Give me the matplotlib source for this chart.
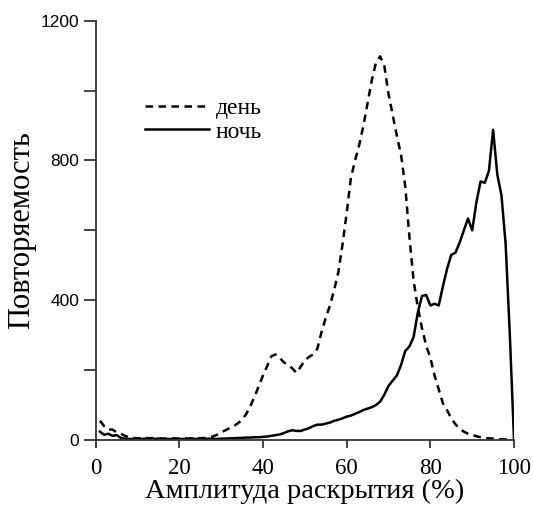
import matplotlib.pyplot as plt

# Amplitude of opening (%), one value per percent
amp_day = list(range(1, 100))
amp_night = list(range(1, 101))

day = [55, 40, 30, 30, 22, 18, 12, 8, 6, 5,
       5, 6, 5, 6, 5, 4, 4, 5, 4, 4,
       5, 4, 5, 6, 5, 6, 8, 10, 15, 22,
       28, 34, 40, 48, 58, 75, 98, 125, 155, 185,
       212, 240, 245, 235, 222, 215, 205, 192, 210, 228,
       238, 245, 262, 310, 350, 385, 430, 480, 560, 650,
       750, 800, 845, 900, 965, 1030, 1080, 1098, 1070, 990,
       930, 870, 815, 725, 580, 455, 380, 320, 270, 235,
       185, 145, 105, 85, 62, 45, 32, 24, 18, 14,
       11, 8, 6, 5, 4, 3, 2, 2, 1]

night = [24, 15, 18, 12, 14, 6, 4, 3, 3, 4,
         3, 4, 3, 3, 4, 3, 3, 3, 4, 3,
         3, 3, 4, 3, 3, 3, 4, 3, 3, 4,
         4, 5, 5, 6, 6, 7, 7, 8, 8, 9,
         10, 12, 14, 16, 20, 25, 28, 26, 26, 30,
         34, 40, 44, 44, 47, 50, 55, 58, 62, 67,
         70, 75, 80, 86, 90, 94, 100, 110, 130, 155,
         170, 185, 215, 255, 268, 295, 365, 412, 415, 385,
         390, 385, 440, 490, 530, 536, 565, 600, 634, 600,
         680, 740, 736, 770, 888, 760, 700, 560, 300, 0]

serif = "Liberation Serif"
sans = "Liberation Sans"

fig = plt.figure(figsize=(5.33, 5.11), dpi=100)
ax = fig.add_axes([0.1796, 0.1389, 0.7848, 0.8206])

ax.plot(amp_day, day, color="black", lw=1.8, ls=(0, (3, 2.2)), label="день")
ax.plot(amp_night, night, color="black", lw=1.8, label="ночь")

ax.set_xlim(0, 100)
ax.set_ylim(0, 1200)
ax.set_xticks([0, 20, 40, 60, 80, 100])
ax.set_yticks([0, 400, 800, 1200])
ax.set_yticks([200, 600, 1000], minor=True)

for s in ["top", "right"]:
    ax.spines[s].set_visible(False)
for s in ["left", "bottom"]:
    ax.spines[s].set_linewidth(1.3)
    ax.spines[s].set_color("#333333")

ax.tick_params(axis="y", which="both", direction="out", length=9, width=1.3,
               color="#333333", labelsize=12.5, pad=3)
ax.tick_params(axis="x", direction="out", length=6, width=1.3,
               color="#333333", labelsize=16.5, pad=7)
for lab in ax.get_yticklabels():
    lab.set_fontfamily(sans)
for lab in ax.get_xticklabels():
    lab.set_fontfamily(serif)

ax.set_xlabel("Амплитуда раскрытия (%)", fontfamily=serif, fontsize=20.5, labelpad=0)
ax.set_ylabel("Повторяемость", fontfamily=serif, fontsize=22, labelpad=3)

ax.legend(loc="upper left", bbox_to_anchor=(0.118, 0.816), frameon=False,
          prop={"family": serif, "size": 17}, handlelength=2.7,
          handletextpad=0.3, labelspacing=0.07, borderpad=0, borderaxespad=0)

plt.savefig("out.png", dpi=100)
